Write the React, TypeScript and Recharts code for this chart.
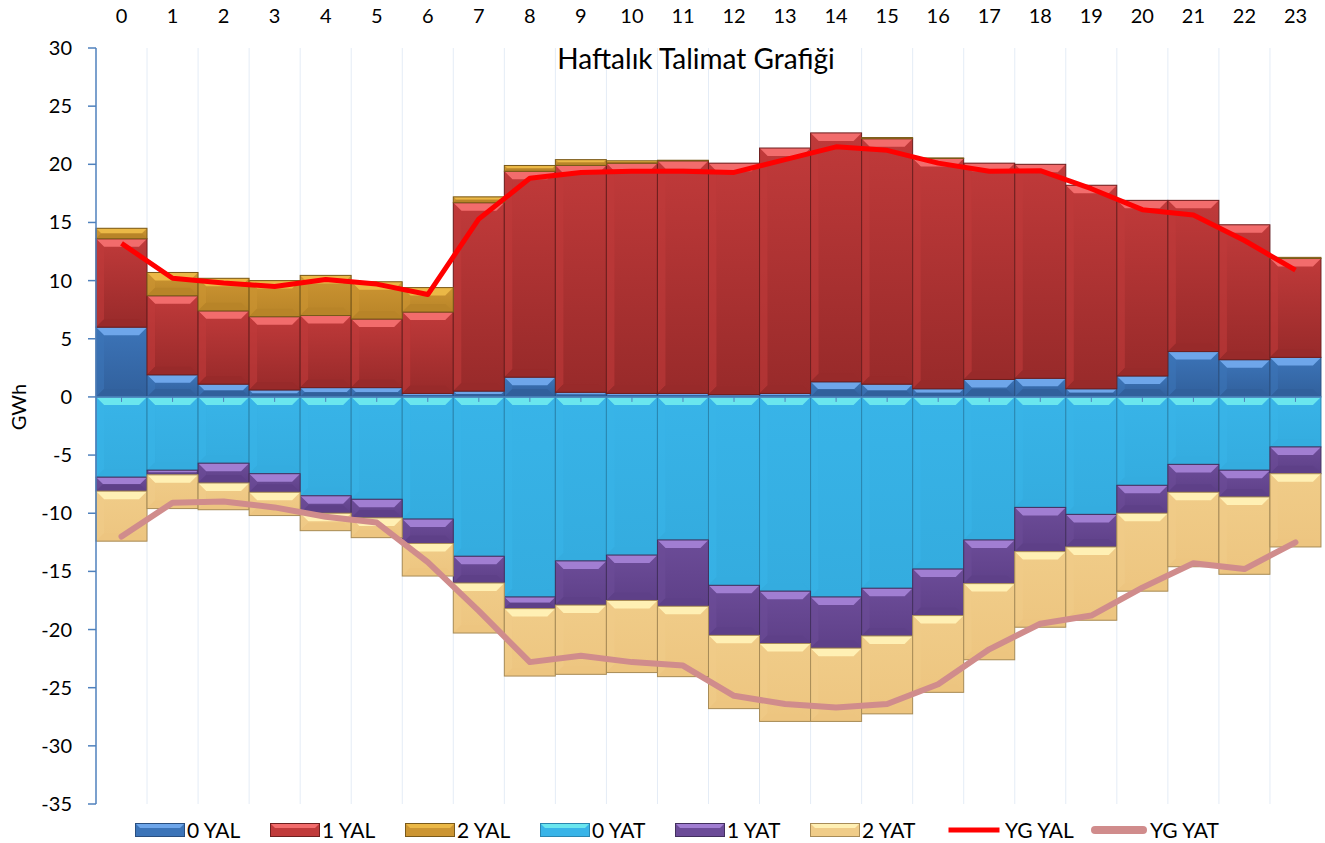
import React from 'react';
import {
  ComposedChart,
  Bar,
  Line,
  XAxis,
  YAxis,
  CartesianGrid,
  ReferenceLine,
} from 'recharts';

const hours = [
  '0', '1', '2', '3', '4', '5', '6', '7', '8', '9', '10', '11',
  '12', '13', '14', '15', '16', '17', '18', '19', '20', '21', '22', '23',
];

const yal0 = [6.0, 1.9, 1.1, 0.6, 0.8, 0.8, 0.3, 0.5, 1.7, 0.4, 0.3, 0.3, 0.2, 0.3, 1.3, 1.1, 0.7, 1.5, 1.6, 0.7, 1.8, 3.9, 3.2, 3.4];
const yal1 = [7.6, 6.8, 6.3, 6.3, 6.2, 5.9, 7.0, 16.2, 17.7, 19.5, 19.8, 20.0, 19.9, 21.1, 21.4, 21.1, 19.8, 18.6, 18.4, 17.5, 15.1, 13.0, 11.6, 8.5];
const yal2 = [0.9, 2.0, 2.8, 3.1, 3.45, 3.2, 2.1, 0.5, 0.5, 0.5, 0.2, 0.05, 0, 0, 0, 0.1, 0.05, 0, 0, 0, 0, 0, 0, 0.1];

const yat0 = [-6.9, -6.3, -5.7, -6.6, -8.5, -8.8, -10.5, -13.7, -17.2, -14.1, -13.6, -12.3, -16.2, -16.7, -17.2, -16.45, -14.8, -12.3, -9.5, -10.1, -7.6, -5.8, -6.3, -4.3];
const yat1 = [-1.2, -0.4, -1.7, -1.6, -1.5, -1.6, -2.1, -2.3, -1.0, -3.8, -3.9, -5.7, -4.3, -4.5, -4.4, -4.1, -4.0, -3.75, -3.8, -2.8, -2.4, -2.4, -2.3, -2.3];
const yat2 = [-4.3, -2.9, -2.3, -2.0, -1.5, -1.7, -2.8, -4.3, -5.8, -5.95, -6.2, -6.05, -6.3, -6.7, -6.3, -6.7, -6.6, -6.55, -6.5, -6.3, -6.7, -6.4, -6.65, -6.3];

const ygYal = [13.2, 10.2, 9.8, 9.5, 10.1, 9.7, 8.8, 15.3, 18.8, 19.3, 19.4, 19.4, 19.3, 20.4, 21.5, 21.2, 20.1, 19.4, 19.45, 17.9, 16.1, 15.65, 13.45, 10.9];
const ygYat = [-12.0, -9.1, -9.0, -9.5, -10.3, -10.8, -14.2, -18.4, -22.8, -22.25, -22.8, -23.1, -25.7, -26.4, -26.7, -26.4, -24.7, -21.7, -19.5, -18.8, -16.4, -14.3, -14.8, -12.5];

const yTicks = [-35, -30, -25, -20, -15, -10, -5, 0, 5, 10, 15, 20, 25, 30];

const data = hours.map((h, i) => ({
  hour: h,
  yal0: yal0[i],
  yal1: yal1[i],
  yal2: yal2[i],
  yat0: yat0[i],
  yat1: yat1[i],
  yat2: yat2[i],
  ygYal: ygYal[i],
  ygYat: ygYat[i],
}));

const FONT = 'Lato, "Noto Sans", sans-serif';
const AXIS_BLUE = '#4f81bd';

interface BarStyle {
  key: string;
  name: string;
  top: string;
  bottom: string;
  light: string;
  edge: string;
}

const barStyles: BarStyle[] = [
  { key: 'yal0', name: '0 YAL', top: '#3c74b8', bottom: '#31609c', light: '#6ea6ea', edge: '#2a4f80' },
  { key: 'yal1', name: '1 YAL', top: '#c03a3a', bottom: '#982a2a', light: '#f26c6c', edge: '#6e1f1f' },
  { key: 'yal2', name: '2 YAL', top: '#cc9532', bottom: '#b88428', light: '#ebb846', edge: '#7a5a1a' },
  { key: 'yat0', name: '0 YAT', top: '#38b4e8', bottom: '#34acdf', light: '#6ae6ee', edge: '#2a86b0' },
  { key: 'yat1', name: '1 YAT', top: '#6c4c98', bottom: '#5e4088', light: '#a17ed2', edge: '#43305f' },
  { key: 'yat2', name: '2 YAT', top: '#f0cc88', bottom: '#edc580', light: '#fff0b4', edge: '#a88c58' },
];

const makeBevel = (s: BarStyle) => (props: any) => {
  let { x = 0, y = 0, width = 0, height = 0 } = props;
  if (height < 0) {
    y += height;
    height = -height;
  }
  if (!height || height < 0.5) return <g />;
  const b = Math.min(8, height / 2, width / 2);
  return (
    <g>
      <rect x={x} y={y} width={width} height={height} fill={`url(#grad-${s.key})`} />
      <polygon
        points={`${x},${y} ${x + width},${y} ${x + width - b},${y + b} ${x + b},${y + b}`}
        fill={s.light}
      />
      <polygon
        points={`${x},${y} ${x + b},${y + b} ${x + b},${y + height - b} ${x},${y + height}`}
        fill={s.top}
        opacity={0.6}
      />
      <polygon
        points={`${x},${y + height} ${x + b},${y + height - b} ${x + width - b},${y + height - b} ${x + width},${y + height}`}
        fill={s.bottom}
      />
      <rect x={x} y={y} width={width} height={height} fill="none" stroke={s.edge} strokeWidth={1} />
    </g>
  );
};

const ZeroLine = (props: any) => {
  const { x1 = 0, y1 = 0, x2 = 0 } = props;
  const band = (x2 - x1) / hours.length;
  return (
    <g>
      <line x1={x1} y1={y1} x2={x2} y2={y1} stroke={AXIS_BLUE} strokeWidth={1.5} />
      {hours.map((h, i) => (
        <line
          key={`zt-${h}`}
          x1={x1 + band * (i + 0.5)}
          x2={x1 + band * (i + 0.5)}
          y1={y1}
          y2={y1 + 5}
          stroke={AXIS_BLUE}
          strokeWidth={1}
        />
      ))}
    </g>
  );
};

const TopTick = (props: any) => {
  const { x, payload } = props;
  return (
    <text x={x} y={23} textAnchor="middle" fontSize={20} fontFamily={FONT} fill="#000">
      {payload.value}
    </text>
  );
};

const LeftTick = (props: any) => {
  const { y, payload } = props;
  return (
    <text x={72} y={y} dy="0.35em" textAnchor="end" fontSize={20} fontFamily={FONT} fill="#000">
      {payload.value}
    </text>
  );
};

const legendItems = [
  ...barStyles.map((s) => ({ name: s.name, type: 'bar' as const, style: s, slot: 135 })),
  { name: 'YG YAL', type: 'line' as const, color: '#ff0000', w: 5, slot: 145 },
  { name: 'YG YAT', type: 'line' as const, color: '#d08c8c', w: 8, slot: 135 },
];

const LegendIcon = ({ item }: { item: any }) => {
  if (item.type === 'bar') {
    const s: BarStyle = item.style;
    return (
      <svg width={50} height={16} style={{ display: 'block' }}>
        <rect x={0.5} y={1.5} width={49} height={13} fill={s.top} stroke={s.edge} />
        <polygon points="1,2 49,2 45,6 5,6" fill={s.light} />
      </svg>
    );
  }
  return (
    <svg width={58} height={16} style={{ display: 'block' }}>
      <line
        x1={item.w / 2 + 1}
        x2={58 - item.w / 2 - 1}
        y1={8}
        y2={8}
        stroke={item.color}
        strokeWidth={item.w}
        strokeLinecap={item.w > 6 ? 'round' : 'butt'}
      />
    </svg>
  );
};

const App = () => {
  return (
    <div style={{ position: 'absolute', left: 0, top: 0, width: 1325, height: 843, background: '#fff' }}>
      <ComposedChart
        width={1325}
        height={843}
        data={data}
        stackOffset="sign"
        barCategoryGap={0}
        barGap={0}
        margin={{ top: 18, right: 4, bottom: 39, left: 16 }}
      >
        <defs>
          {barStyles.map((s) => (
            <linearGradient key={s.key} id={`grad-${s.key}`} x1="0" y1="0" x2="0" y2="1">
              <stop offset="0%" stopColor={s.top} />
              <stop offset="100%" stopColor={s.bottom} />
            </linearGradient>
          ))}
        </defs>
        <CartesianGrid
          horizontal={false}
          stroke="#e4ecf6"
          verticalCoordinatesGenerator={({ offset }: any) =>
            hours.slice(1).map((_, i) => offset.left + ((i + 1) * offset.width) / hours.length)
          }
        />
        <XAxis
          dataKey="hour"
          orientation="top"
          height={30}
          axisLine={false}
          tickLine={false}
          interval={0}
          tick={<TopTick />}
        />
        <YAxis
          domain={[-35, 30]}
          ticks={yTicks}
          width={80}
          interval={0}
          allowDataOverflow
          axisLine={{ stroke: AXIS_BLUE, strokeWidth: 1.5 }}
          tickLine={{ stroke: AXIS_BLUE, strokeWidth: 1.5 }}
          tickSize={8}
          tick={<LeftTick />}
        />
        {barStyles.map((s) => (
          <Bar
            key={s.key}
            dataKey={s.key}
            name={s.name}
            stackId="talimat"
            fill={s.top}
            shape={makeBevel(s)}
            isAnimationActive={false}
          />
        ))}
        <ReferenceLine y={0} shape={ZeroLine} />
        <Line
          dataKey="ygYal"
          name="YG YAL"
          type="linear"
          stroke="#ff0000"
          strokeWidth={5}
          strokeLinejoin="round"
          dot={false}
          activeDot={false}
          isAnimationActive={false}
        />
        <Line
          dataKey="ygYat"
          name="YG YAT"
          type="linear"
          stroke="#d08c8c"
          strokeWidth={6}
          strokeLinejoin="round"
          strokeLinecap="round"
          dot={false}
          activeDot={false}
          isAnimationActive={false}
        />
      </ComposedChart>

      <div
        style={{
          position: 'absolute',
          left: 396,
          top: 42,
          width: 600,
          textAlign: 'center',
          fontFamily: FONT,
          fontSize: 28,
          lineHeight: 1.2,
          color: '#000',
          pointerEvents: 'none',
        }}
      >
        Haftalık Talimat Grafiği
      </div>

      <div
        style={{
          position: 'absolute',
          left: 8,
          top: 407,
          transform: 'translate(-50%, -50%) rotate(-90deg)',
          marginLeft: 10,
          fontFamily: FONT,
          fontSize: 20,
          color: '#000',
          whiteSpace: 'nowrap',
        }}
      >
        GWh
      </div>

      <div
        style={{
          position: 'absolute',
          left: 135,
          top: 817,
          display: 'flex',
          alignItems: 'center',
          fontFamily: FONT,
          fontSize: 21,
          color: '#000',
        }}
      >
        {legendItems.map((item) => (
          <div key={item.name} style={{ display: 'flex', alignItems: 'center', width: item.slot, flex: 'none' }}>
            <LegendIcon item={item} />
            <span style={{ marginLeft: 2, whiteSpace: 'nowrap' }}>{item.name}</span>
          </div>
        ))}
      </div>
    </div>
  );
};

export default App;
